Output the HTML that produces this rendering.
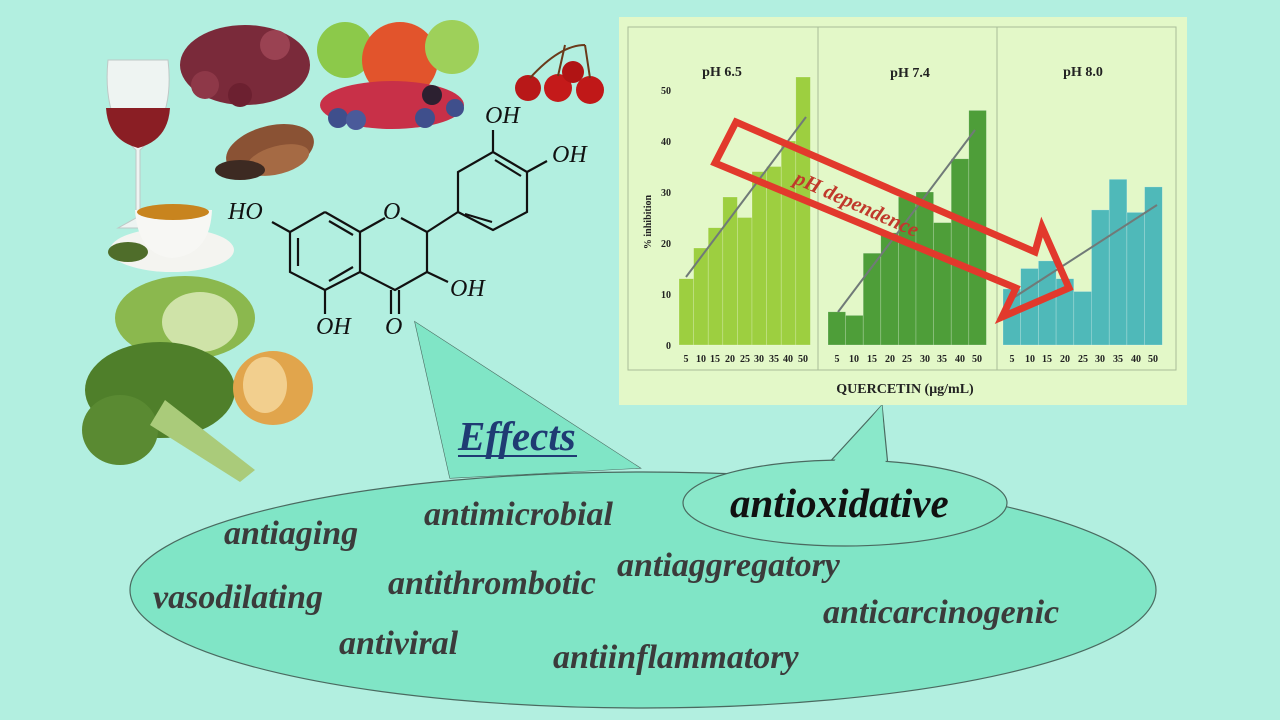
<!DOCTYPE html>
<html><head><meta charset="utf-8"><style>
html,body{margin:0;padding:0;width:1280px;height:720px;overflow:hidden;background:#b2efe0}
svg{display:block}
.t{font-family:"Liberation Serif",serif;font-weight:bold;font-style:italic;fill:#3b3b3b;font-size:34px}
.m{font-family:"Liberation Serif",serif;font-style:italic;font-size:24px;fill:#111}
.ax{font-family:"Liberation Serif",serif;font-weight:bold;font-size:10px;fill:#222}
</style></head><body>
<svg width="1280" height="720" viewBox="0 0 1280 720">
<rect width="1280" height="720" fill="#b2efe0"/>
<!-- speech bubbles -->
<path d="M450,478 L415,322 L640,468 Z" fill="#80e5c6" stroke="#4a6a60" stroke-width="1.2"/>
<ellipse cx="643" cy="590" rx="513" ry="118" fill="#80e5c6" stroke="#4a6a60" stroke-width="1.2"/>
<path d="M450,478 L415,322 L640,468" fill="#80e5c6" stroke="none"/>
<path d="M826,466 L882,405 L888,466 Z" fill="#8ae8ca" stroke="#4a6a60" stroke-width="1.2"/>
<ellipse cx="845" cy="503" rx="162" ry="43" fill="#8ae8ca" stroke="#4a6a60" stroke-width="1.2"/>
<path d="M830,466 L882,405 L886,468" fill="#8ae8ca"/>
<!-- texts -->
<text x="458" y="450" font-family="Liberation Serif,serif" font-weight="bold" font-style="italic" font-size="41" fill="#1f3b73">Effects</text>
<line x1="458" y1="456" x2="577" y2="456" stroke="#1f3b73" stroke-width="2"/>
<text class="t" x="224" y="544">antiaging</text>
<text class="t" x="424" y="525">antimicrobial</text>
<text x="730" y="517" font-family="Liberation Serif,serif" font-weight="bold" font-style="italic" font-size="41" fill="#111">antioxidative</text>
<text class="t" x="617" y="576">antiaggregatory</text>
<text class="t" x="153" y="608">vasodilating</text>
<text class="t" x="388" y="594">antithrombotic</text>
<text class="t" x="823" y="623">anticarcinogenic</text>
<text class="t" x="339" y="654">antiviral</text>
<text class="t" x="553" y="668">antiinflammatory</text>
<!-- chart -->
<rect x="619" y="17" width="568" height="388" fill="#e3f8c8"/>
<rect x="628" y="27" width="548" height="343" fill="#e3f8c8" stroke="#a8bd98" stroke-width="1"/>
<line x1="818" y1="27" x2="818" y2="370" stroke="#a8bd98"/>
<line x1="997" y1="27" x2="997" y2="370" stroke="#a8bd98"/>
<g font-family="Liberation Serif,serif" font-weight="bold" font-size="14" fill="#222" text-anchor="middle">
<text x="722" y="76">pH 6.5</text><text x="910" y="77">pH 7.4</text><text x="1083" y="76">pH 8.0</text>
</g>
<g class="ax" text-anchor="end">
<text x="671" y="349">0</text><text x="671" y="298">10</text><text x="671" y="247">20</text><text x="671" y="196">30</text><text x="671" y="145">40</text><text x="671" y="94">50</text>
</g>
<text class="ax" transform="translate(651,222) rotate(-90)" text-anchor="middle" font-size="9">% inhibition</text>
<g id="bars" stroke="rgba(255,255,255,0.35)" stroke-width="0.6">
<g fill="#9dcf40">
<rect x="679" y="278.7" width="14.6" height="66.3"/><rect x="693.6" y="248" width="14.6" height="97"/><rect x="708.2" y="227.7" width="14.6" height="117.3"/><rect x="722.8" y="197" width="14.6" height="148"/><rect x="737.4" y="217.5" width="14.6" height="127.5"/><rect x="752" y="171.6" width="14.6" height="173.4"/><rect x="766.6" y="166.5" width="14.6" height="178.5"/><rect x="781.2" y="141" width="14.6" height="204"/><rect x="795.8" y="77" width="14.6" height="268"/>
</g>
<g fill="#4e9e39">
<rect x="828" y="311.8" width="17.6" height="33.2"/><rect x="845.6" y="315.4" width="17.6" height="29.6"/><rect x="863.2" y="253.2" width="17.6" height="91.8"/><rect x="880.8" y="232.8" width="17.6" height="112.2"/><rect x="898.4" y="197" width="17.6" height="148"/><rect x="916" y="192" width="17.6" height="153"/><rect x="933.6" y="222.6" width="17.6" height="122.4"/><rect x="951.2" y="158.8" width="17.6" height="186.2"/><rect x="968.8" y="110.4" width="17.6" height="234.6"/>
</g>
<g fill="#4fb9b9">
<rect x="1003" y="288.9" width="17.7" height="56.1"/><rect x="1020.7" y="268.5" width="17.7" height="76.5"/><rect x="1038.4" y="260.9" width="17.7" height="84.1"/><rect x="1056.1" y="278.7" width="17.7" height="66.3"/><rect x="1073.8" y="291.5" width="17.7" height="53.5"/><rect x="1091.5" y="209.9" width="17.7" height="135.1"/><rect x="1109.2" y="179.3" width="17.7" height="165.7"/><rect x="1126.9" y="212.4" width="17.7" height="132.6"/><rect x="1144.6" y="186.9" width="17.7" height="158.1"/>
</g>
</g>
<g class="ax" text-anchor="middle">
<text x="686" y="362">5</text><text x="701" y="362">10</text><text x="715" y="362">15</text><text x="730" y="362">20</text><text x="745" y="362">25</text><text x="759" y="362">30</text><text x="774" y="362">35</text><text x="788" y="362">40</text><text x="803" y="362">50</text>
<text x="837" y="362">5</text><text x="854" y="362">10</text><text x="872" y="362">15</text><text x="890" y="362">20</text><text x="907" y="362">25</text><text x="925" y="362">30</text><text x="942" y="362">35</text><text x="960" y="362">40</text><text x="977" y="362">50</text>
<text x="1012" y="362">5</text><text x="1030" y="362">10</text><text x="1047" y="362">15</text><text x="1065" y="362">20</text><text x="1083" y="362">25</text><text x="1100" y="362">30</text><text x="1118" y="362">35</text><text x="1136" y="362">40</text><text x="1153" y="362">50</text>
</g>
<text x="905" y="393" font-family="Liberation Serif,serif" font-weight="bold" font-size="14" fill="#222" text-anchor="middle">QUERCETIN (μg/mL)</text>
<g stroke="#707a78" stroke-width="2">
<line x1="686" y1="277" x2="806" y2="117"/><line x1="838" y1="312" x2="975" y2="130"/><line x1="1010" y1="300" x2="1157" y2="205"/>
</g>
<polygon points="736,122 1035,252 1042,227 1069,288 1002,317 1016,288 715,163" fill="none" stroke="#e2392c" stroke-width="7" stroke-linejoin="miter"/>
<text transform="translate(793,183) rotate(24)" font-family="Liberation Serif,serif" font-weight="bold" font-style="italic" font-size="21" fill="#c0392b">pH dependence</text>
<!-- molecule -->
<g stroke="#111" stroke-width="2.2" fill="none">
<polyline points="325,212 360,232 360,272 325,290 290,272 290,232 325,212"/>
<line x1="298" y1="238" x2="298" y2="266"/><line x1="329" y1="221" x2="353" y2="235"/><line x1="329" y1="281" x2="353" y2="267"/>
<line x1="360" y1="232" x2="385" y2="218"/><line x1="401" y1="218" x2="427" y2="232"/>
<polyline points="427,232 427,272 395,290 360,272"/>
<line x1="391" y1="290" x2="391" y2="314"/><line x1="399" y1="290" x2="399" y2="314"/>
<line x1="427" y1="272" x2="448" y2="282"/>
<line x1="290" y1="232" x2="272" y2="222"/>
<line x1="325" y1="290" x2="325" y2="314"/>
<line x1="427" y1="232" x2="458" y2="212"/>
<polyline points="458,212 458,172 493,152 527,172 527,212 493,230 458,212"/>
<line x1="465" y1="214" x2="492" y2="222"/><line x1="495" y1="160" x2="521" y2="176"/>
<line x1="493" y1="152" x2="493" y2="130"/><line x1="527" y1="172" x2="547" y2="161"/>
</g>
<text class="m" x="228" y="219">HO</text>
<text class="m" x="383" y="219">O</text>
<text class="m" x="450" y="296">OH</text>
<text class="m" x="385" y="334">O</text>
<text class="m" x="316" y="334">OH</text>
<text class="m" x="485" y="123">OH</text>
<text class="m" x="552" y="162">OH</text>
<!-- foods -->
<g>
<path d="M108,60 L168,60 Q175,120 140,150 L140,218 L160,228 L118,228 L136,218 L136,150 Q102,120 108,60 Z" fill="#eef4f2" stroke="#bfc8c6"/>
<path d="M106,108 L170,108 Q168,140 138,148 Q108,140 106,108 Z" fill="#8a1e24"/>
<ellipse cx="172" cy="250" rx="62" ry="22" fill="#f4f4f0"/>
<path d="M135,210 L212,210 Q210,255 172,258 Q138,255 135,210 Z" fill="#f7f7f4"/>
<ellipse cx="173" cy="212" rx="36" ry="8" fill="#c8841e"/>
<ellipse cx="128" cy="252" rx="20" ry="10" fill="#4f6d2a"/>
<ellipse cx="245" cy="65" rx="65" ry="40" fill="#7a2a3a"/>
<circle cx="205" cy="85" r="14" fill="#8e3848"/><circle cx="275" cy="45" r="15" fill="#9a4252"/><circle cx="240" cy="95" r="12" fill="#6c2030"/>
<circle cx="345" cy="50" r="28" fill="#8cc94a"/><circle cx="400" cy="60" r="38" fill="#e2542c"/><circle cx="452" cy="47" r="27" fill="#9ed05a"/>
<ellipse cx="392" cy="105" rx="72" ry="24" fill="#c83048"/>
<circle cx="338" cy="118" r="10" fill="#3f4f8c"/><circle cx="356" cy="120" r="10" fill="#4a5a9a"/><circle cx="425" cy="118" r="10" fill="#3f4f8c"/><circle cx="455" cy="108" r="9" fill="#3f4f8c"/><circle cx="432" cy="95" r="10" fill="#2c2030"/>
<circle cx="528" cy="88" r="13" fill="#b81818"/><circle cx="558" cy="88" r="14" fill="#c41a1a"/><circle cx="590" cy="90" r="14" fill="#c01818"/><circle cx="573" cy="72" r="11" fill="#b01414"/>
<path d="M530,78 Q560,45 585,45 M558,76 L565,45 M590,78 L585,45" stroke="#6a3a1a" stroke-width="2" fill="none"/>
<ellipse cx="270" cy="150" rx="45" ry="24" fill="#8a5234" transform="rotate(-15 270 150)"/>
<ellipse cx="278" cy="160" rx="32" ry="14" fill="#a56a44" transform="rotate(-15 278 160)"/>
<ellipse cx="240" cy="170" rx="25" ry="10" fill="#3d2a22"/>
<ellipse cx="185" cy="318" rx="70" ry="42" fill="#8bb84e"/>
<ellipse cx="200" cy="322" rx="38" ry="30" fill="#cfe3a8"/>
<ellipse cx="160" cy="390" rx="75" ry="48" fill="#4f7f2a"/>
<ellipse cx="120" cy="430" rx="38" ry="35" fill="#5a8a32"/>
<path d="M165,400 L255,470 L240,482 L150,425 Z" fill="#aacb7a"/>
<ellipse cx="273" cy="388" rx="40" ry="37" fill="#e1a54c"/>
<ellipse cx="265" cy="385" rx="22" ry="28" fill="#f2cf8e"/>
</g>
</svg>
</body></html>
